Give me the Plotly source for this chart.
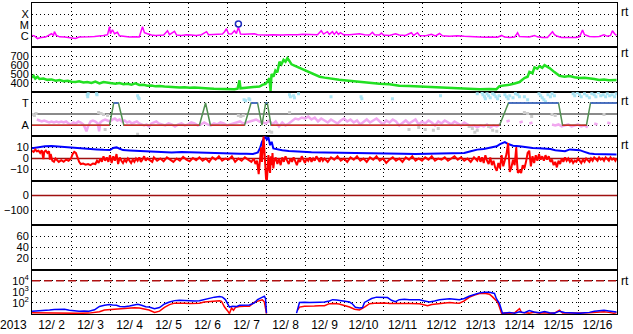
import pandas as pd
import plotly.graph_objects as go
from plotly.subplots import make_subplots

# ---------------- data (hours since 2013-12-02 00:00 UT) ----------------
START = "2013-12-02 00:00"
END = "2013-12-17 00:00"

xray_h = [0,1.5,3.4,5.8,8.3,10.8,12,13.2,13.8,15,17,20,23,25.5,26.8,29,32.3,35.4,38.5,41.5,44,46.5,47.7,48.3,49.5,50.8,52.6,53.8,57,60,63,66,68,69.2,71,73.5,76,78.5,81,83.4,84.6,87.7,89,92,95,98,101,104.3,107.4,108.6,111.7,114.8,117.2,118.5,119.7,120.9,122.8,124.6,125.8,127,128.3,130.8,133.8,136.9,138.8,141.8,145,148,151,154,157.2,160.3,163.4,166.5,169.5,172.6,175.7,178,179.4,181.8,183,184.9,186,187.4,188.6,189.8,191.7,195.4,198.5,201.5,204.6,207.7,209.5,210.8,213.8,215,216.3,220,223.7,226,229.8,233.5,234.8,237.2,238.5,242,245.8,248.3,250.8,252.6,257,261.8,266,270.5,274,278.5,282.8,286.5,289,290.8,293.8,297,298.8,300,303,306,309.2,311,314,317.2,320.3,321.5,323.4,325.8,328.9,332,335,337,338.8,340,343,346,349,352,354,356,357.2,358.5,359.7]
xray_flux = [1.2e-6,1.1e-6,6.3e-7,8e-7,8.6e-7,1.4e-6,1.7e-6,1.2e-6,2.6e-6,1.2e-6,9e-7,8.6e-7,8e-7,7e-7,6.5e-7,8.6e-7,9.5e-7,9e-7,9.5e-7,1.0e-6,1.2e-6,1.4e-6,7.4e-6,1.7e-6,3.9e-6,1.7e-6,2.3e-6,1.1e-6,9e-7,8.6e-7,9e-7,8.6e-7,7.4e-6,2.1e-6,1.7e-6,1.3e-6,1.2e-6,1.2e-6,1.3e-6,3.2e-6,1.4e-6,2.8e-6,1.3e-6,1.2e-6,1.4e-6,1.3e-6,1.2e-6,1.4e-6,2.6e-6,1.4e-6,1.5e-6,1.4e-6,1.6e-6,2.6e-6,4.9e-6,1.7e-6,1.6e-6,3.2e-6,1.8e-6,6.5e-6,1.6e-6,1.5e-6,1.5e-6,1.7e-6,1.4e-6,1.3e-6,1.3e-6,1.4e-6,1.3e-6,1.3e-6,1.4e-6,1.3e-6,1.4e-6,1.5e-6,1.4e-6,1.5e-6,1.4e-6,3.2e-6,1.6e-6,2.6e-6,1.5e-6,2.6e-6,1.5e-6,2.6e-6,1.5e-6,2.1e-6,1.4e-6,1.4e-6,1.5e-6,1.7e-6,1.4e-6,1.3e-6,2.3e-6,1.4e-6,1.3e-6,2.0e-6,1.3e-6,1.2e-6,1.7e-6,1.3e-6,1.2e-6,2.1e-6,1.2e-6,2.1e-6,1.2e-6,1.1e-6,1.5e-6,1.1e-6,1.8e-6,1.1e-6,1.0e-6,1.1e-6,1.0e-6,9e-7,8.6e-7,8.4e-7,8.6e-7,8.4e-7,1.2e-6,8.6e-7,8e-7,8.6e-7,2.1e-6,9.5e-7,9e-7,8.6e-7,1.2e-6,9e-7,7.7e-7,8e-7,2.6e-6,1.4e-6,1.0e-6,8e-7,7.7e-7,7.5e-7,8e-7,9.5e-7,3.6e-6,1.4e-6,9.5e-7,9e-7,9.5e-7,1.4e-6,1.0e-6,1.2e-6,3.2e-6,1.7e-6,1.2e-6]
flare_h = [127]
flare_flux = [1.3e-5]

speed_h = [0,1,2,3.4,4.6,7,9.5,12,14.5,17,19.4,22,24.3,26.8,29,31.7,34,36.6,39,41.5,44,46.5,49,51.4,53.8,56.3,58.8,61.2,63.7,66,68.6,71,73.5,76,78.5,81.5,84.6,87.7,90.8,93.8,97,100,103,106,109,112,115,118.5,121.5,124.6,126.5,127.7,128.3,130.8,133.8,136.9,140,141.8,143.7,145,146.1,146.8,147.4,148.6,149.8,151,152.3,153.5,154.8,156,157.2,158.5,159.7,162.2,164.6,167.7,170.8,173.8,177,180,183,189,195,201.5,207.7,213.8,220,226,232,238.5,244.6,250.8,257,263,269,275.4,281.5,285.8,287.7,290.8,293.8,297,300,303,305,306.1,308,309.2,311,312.3,314,315.4,317.2,318.5,321.5,324.6,327.7,330.8,333.8,337,340,343,346,349,352,355,359.7]
speed_val = [460,480,450,470,445,450,435,440,425,432,420,425,415,412,418,405,410,400,415,395,410,400,398,392,400,385,390,380,395,378,380,370,372,362,365,360,355,358,350,352,345,348,342,340,338,335,333,330,332,330,335,430,340,345,350,352,360,378,390,420,455,310,500,470,540,520,640,610,660,640,680,645,610,590,570,550,515,490,470,460,450,435,425,412,405,392,385,370,365,360,352,348,342,338,335,330,332,330,365,370,380,395,410,455,470,525,510,575,560,590,570,600,580,567,522,480,470,478,465,455,460,455,445,433,438,432,433]

# IMF phi angle (deg); sector estimate (T = 315, A = 135)
sector_h = [0,47.7,50.3,53.2,56.5,103,106.8,109.8,130.8,134.8,138.8,141.5,143.8,144.8,147.1,287.7,293.2,324,326.5,341.2,343.7,359.9]
sector_deg = [135,135,315,315,135,135,315,135,135,315,315,135,315,315,135,135,315,315,135,135,315,315]

pink_h = [3,4.5,6,7.5,9,10.5,12,13.5,15,16.5,18,19.5,21,22.5,24,25.5,27,28.5,30,31.5,32.5,33.5,34.5,36,37.5,39,40.5,41.3,42,43.5,45,46.5,48,49.5,51,52.5,54,55.5,57,58.5,60,61.5,63,64.5,66,67.5,69,70.5,72,73.5,75,76.5,78,80,82,84,86,88,90,92,94,96,98,100,102,104,106,108,110,112,114,116,118,120,122,124,126,128,130,132,134,136,138,140,142,144,146,148,150,152,154,156,158,160,162,164,166,168,170,172,174,176,178,180,182,184,186,188,190,192,194,196,198,200,202,204,206,208,210,212,214,216,218,220,222,224,226,228,230,232,234,236,238,240,242,244,246,248,250,252,254,256,258,260,262,264,266,268,270,272,274,276,278,280,282,284,286,288,289,292,294,295,300,302,303,306,308,309,320,322,324,326,328,330,332,334,336,338,340,342,343,346,348,349,354,356]
pink_deg = [181,173,165,173,165,157,165,157,165,157,165,157,165,149,141,157,149,165,157,141,117,85,125,165,173,165,149,85,157,173,181,173,165,181,189,173,181,165,173,157,165,149,157,165,149,141,133,141,125,149,157,165,149,141,133,149,141,125,141,149,133,141,157,149,133,141,157,141,133,149,141,157,149,133,141,149,157,165,149,157,165,173,181,165,157,149,173,141,165,125,157,133,149,173,189,181,197,189,205,181,197,165,189,173,157,181,165,149,173,189,165,181,157,173,141,165,181,157,173,189,165,141,173,157,181,165,133,157,173,149,165,181,141,165,149,173,157,133,165,149,173,157,141,165,149,133,157,141,125,133,117,133,125,141,117,133,125,141,None,165,173,None,157,165,None,149,157,None,141,133,141,125,133,141,125,133,141,125,133,117,None,149,141,None,157,149]

cyan_h = [34,34.3,34.6,39.7,40,65,65.5,66,130.5,131.5,133.5,134,158.5,159,161,161.5,164,184,202.5,203,221.8,251.4,274,277,277.5,278.5,279,280,281,282,283.5,284.5,285.5,286.5,287.5,291,292,293,294,296,297.5,299,300,303,305,312,313,314,315,316,317.5,319,320,321.5,333,334,335.5,337,338,340,341.5,343,344.5,346,347,348.5,350,351.5,353,354,355.5,357,358.5,359.5]
cyan_deg = [381,365,389,389,381,373,357,349,341,333,349,341,381,365,373,357,389,365,365,349,349,373,389,397,381,365,349,389,373,357,389,381,365,349,373,381,365,349,373,357,389,381,365,365,341,389,373,357,341,325,381,365,389,373,389,373,397,381,365,389,373,357,389,381,365,397,373,381,365,389,373,381,365,389]

grey_h = [0.5,1.5,2.5,41,42.5,44,45,46.5,65,127,128.5,130,146,147.5,158.5,232,238,242,247,250,269,271,272.5,274,281,283.5,286,303,305,307.5,320,322,352]
grey_deg = [221,213,229,237,229,221,101,213,61,213,205,213,85,77,237,101,117,101,93,109,125,109,77,93,125,93,85,237,229,205,221,213,221]

bt_h = [0,4,8,12,16,20,24,28,32,36,40,44,48,50,52,54,56,60,64,68,72,76,80,86,92,98,104,110,116,120,124,128,132,136,139,140.5,141.5,142.5,143.5,144.5,145.5,146.5,147.5,148.5,150,154,158,162,166,172,180,188,196,204,212,220,228,236,244,252,260,266,270,274,278,281,284,286,288,291,293,296,300,304,308,312,316,319,322,325,328,331,334,337,340,343,346,350,355,359.7]
bt_val = [9.3,10.5,11.1,11.3,10.8,10.2,9.8,9.3,8.6,8.4,8.2,7.8,7.6,9.5,10,8.8,7.6,7.2,7.0,6.8,6.0,5.8,5.6,5.4,5.8,5.5,5.0,4.6,4.2,4.4,4.0,4.2,4.3,4.0,5.5,10,15,18,20,17,19,12,15,9,8.5,7.5,6.7,6.2,5.8,5.6,5.5,5.2,4.8,4.6,4.4,4.5,4.2,4.0,4.2,4.4,4.5,5,6.5,8,8.5,9.5,10,11,12.9,14.7,13,11.5,11,10.2,9.5,9.3,9.0,8.5,7.5,6.7,6.5,8.2,8.0,7.5,6.0,4.5,4.0,3.8,3.6,3.6]

bz_h = [0,1,2,3,4,5,6,7,7.5,8.5,9.5,10.5,11,11.5,12.5,13.5,14.5,15.5,16.5,18,19.5,21,22.5,24,25,26,27,28,29,30,31.5,33,34.5,36,37.5,39,40,41,42,43,44,45,46,47,48,49,50,51,52,53,54,55,56,57,58,59,60,61,62,63,64,65,66,67,68,69,70,71,72,74,75,77,79,81,83,85,87,89,91,93,95,97,99,101,103,105,107,109,111,113,115,117,119,121,123,125,127,129,131,133,135,136.5,137.5,138.5,139,139.5,140,140.5,141,141.5,142,142.5,143,143.5,144,144.5,145,145.5,146,146.5,147,147.5,148,148.5,149,150,151,152,153,154,155,156,157,158,159,160,161,162,163,164,165,166,167,168,169,170,171,172,173,174,175,176,177,178,179,180,182,184,186,188,190,192,194,196,198,200,202,204,206,208,210,212,214,216,218,220,222,224,226,228,230,232,234,236,238,240,242,244,246,248,250,252,254,256,258,260,262,264,266,268,270,272,274,275,276,277,278,279,280,281,282,283,284,285,286,287,288,289,290,291,292,293,293.5,294,295,296,297,298,298.5,299,300,301,302,303,304,305,306,306.5,307,308,309,310,311,312,313,314,315,316,317,318,319,320,321,322,323,324,325,326,327,328,329,330,331,332,333,334,335,336,337,338,339,340,341,342,343,344,345,346,347,348,349,350,351,352,353,354,355,356,357,358,359,359.7]
bz_val = [7,6,8,6.5,7,5,7.5,-0.5,6,7,5,6.5,-1,4,-2,-3,0,-2,-3,-1.5,-3,-1,-2,0,4,6,5,1,-3,-5,-4.5,-5.5,-5,-6,-4.5,-5,-2,-4,0,-3,2,-2,1,-3,3,-4,2,-2,4,-5,1,-2,-4,-1,-3,0,-2,-4,-1,-3,0,-2,1,-3,-1,2,-2,0,-1,-3,1,-2,0,-2.5,1,-1,-3,0,-2,1.5,-1,-2.5,0.5,-1.5,1,-2,0,-3,1,-1,2,-2,0,-1,2,-3,0,-2,1,-1,-3,0,-5,-2,-9,-14,-6,4,10,-3,14,20,8,-8,-18,-21,-6,3,-9,-13,2,-6,5,-9,-3,1,-5,0,-6,1,-3,2,-2,-5,0,-3,1,-2,-6,-1,-3,2,-1,-4,0,-2,1,-3,0,-2,2,-1,-3,1,-2,0,-3,1,-1,2,-2,0,-3,1,-1,2,-2,0,-3,1,-1,2,-2,0,-4,-1,1,-2,0,-3,1,-1,2,-2,0,-2,1,-1,2,-2,0,-1,1,-2,0,2,-1,1,-2,0,-3,1,-2,2,-3,1,-4,3,-2,-5,1,-6,-2,-8,-11,-4,-9,3,-7,-2,4,14,3,-12,-8,-1,-6,10,-4,-13,-11,-13,-6,-9,-3,5,7,-1,-7,2,-4,3,-2,4,-1,2,-2,3,-1,2,-3,-1,-6,-3,-8,-2,-5,0,-3,1,-2,0,-3,-1,-4,-2,-3,0,-2,-4,-1,-3,0,-2,-3,0,-2,1,-1,-2,1,-1,0,-2,1,-1,-2,1,-1,0,-2,0]

# energetic particle fluxes (log panel)
p_blue_h = [0,4.6,7.7,10.8,13.8,17,20,23,26,29,32,35,38.5,40.3,41.5,44.6,47.7,49.5,52,54,57,60,63,65,67.4,70,72,75.4,78.5,81.5,84.6,87.7,90.8,93.8,97,100,103,106,109,112.3,115.4,117.2,119,120.3,121.5,123.4,126,127.7,130.8,133.8,136.9,138.8,141.2,143,143.7,144.3,150,162.8,164,164.6,167.7,170.8,177,180,183,185,187.4,189,192.3,195.4,197.2,199,201.5,203.4,204.6,206.5,209,212,215.7,218.8,221.2,223.7,226,229.2,232.3,235.4,238.5,241.5,244.6,247.7,250.8,253.8,257,260,263,266,269,272.3,275.4,278.5,281.5,284.6,285.8,287.7,289,289.5,293.8,297,300,303,306,309,312.3,315.4,318.5,321.5,324.6,327.7,330.8,333.8,337,340,343,346,349,352,355,358,359.7]
p_blue = [18,19,22,23,26,25,27,22,19,18,19,18,24,35,48,60,72,65,60,48,44,52,62,75,62,45,42,30,38,80,120,160,175,160,150,150,158,210,275,330,372,330,200,90,42,50,48,60,63,65,100,200,300,398,250,12,None,12,60,110,117,110,117,120,150,195,180,170,140,120,80,40,35,38,110,160,250,330,340,300,170,130,195,210,190,200,190,150,120,150,195,210,230,210,190,250,400,560,800,912,900,700,240,85,25,12,14,12,16,13,20,15,13,17,13,12,18,14,13,12,11.5,13,14,18,20,22,19,17,15]
p_red_h = [0,4.6,10.8,17,23,29,35,38.5,41.5,44.6,47.7,50.8,54,57,60,63,66,69.2,72,75.4,78.5,81.5,84.6,87.7,90.8,93.8,97,100,103,106,109,112.3,115.4,116.6,118.5,120.3,121.5,122.8,124,125.2,127.7,130.8,133.8,136.9,140,141.8,143,144.3,150,163.4,164.6,167.7,170.8,173.8,177,180,183,186,189,193.5,195.4,198.5,201.5,204.6,207.7,210.8,213.8,217,220,223,226,232.3,238.5,243.4,246,250.8,253.8,257,260,263,266,269,272.3,275.4,278.5,280.3,281.5,283.4,284.6,286.5,287.7,289,290.8,293.8,297,300,301.2,306,309,312.3,315.4,318.5,321.5,324.6,326.5,330.8,337,343,346,349,352,355,358,359.7]
p_red = [13,12.5,12,13,12,11.5,12,13,16,23,25,27,28,30,34,36,34,28,23,14,18,40,70,95,100,92,88,90,95,120,135,150,158,140,42,20,11,35,22,40,48,50,50,117,158,190,117,11,None,23,42,50,48,52,55,56,85,90,80,55,42,27,23,42,85,95,100,98,90,92,85,88,85,55,70,90,100,110,100,95,150,320,500,700,741,700,600,350,250,120,40,11,12,11.5,13,30,14,12,14,12,13,11.5,12,22,12,11.5,12,13,14,13,16,14,12,13]

# ---------------- helpers ----------------
T0 = pd.Timestamp(START)
def tt(hours):
    return [T0 + pd.Timedelta(hours=h) if h is not None else None for h in hours]
X_ENDS = [pd.Timestamp(START), pd.Timestamp(END)]

FONT = "Liberation Sans, Arial, Helvetica, sans-serif"
DOT = "1px,3px"

fig = make_subplots(rows=7, cols=1, shared_xaxes=True, vertical_spacing=0)

def ref_line(row, yv, color, width=1.5, dash="solid"):
    fig.add_trace(go.Scatter(x=X_ENDS, y=[yv, yv], mode="lines",
                             line=dict(color=color, width=width, dash=dash),
                             hoverinfo="skip", showlegend=False), row=row, col=1)

# Panel 1: X-ray flux
fig.add_trace(go.Scatter(x=tt(xray_h), y=xray_flux, mode="lines",
                         line=dict(color="#ff00ff", width=1.5), showlegend=False), row=1, col=1)
fig.add_trace(go.Scatter(x=tt(flare_h), y=flare_flux, mode="markers",
                         marker=dict(symbol="circle-open", size=6, color="#2030c0",
                                     line=dict(width=1.5, color="#2030c0")),
                         showlegend=False), row=1, col=1)

# Panel 2: solar wind speed
fig.add_trace(go.Scatter(x=tt(speed_h), y=speed_val, mode="lines",
                         line=dict(color="#22e022", width=2.5), showlegend=False), row=2, col=1)

# Panel 3: phi angle
ref_line(3, 225, "#8a8a8a", 2)
fig.add_trace(go.Scatter(x=tt(pink_h), y=pink_deg, mode="lines", connectgaps=False,
                         line=dict(color="#f2a8f0", width=2.5), showlegend=False), row=3, col=1)
fig.add_trace(go.Scatter(x=tt(grey_h), y=grey_deg, mode="markers",
                         marker=dict(symbol="square", size=3, color="#cccccc"), showlegend=False), row=3, col=1)
fig.add_trace(go.Scatter(x=tt(cyan_h), y=cyan_deg, mode="markers",
                         marker=dict(symbol="square", size=3, color="#a8e4f4"), showlegend=False), row=3, col=1)
fig.add_trace(go.Scatter(x=tt(sector_h), y=sector_deg, mode="lines",
                         line=dict(color="#4f8f4f", width=1.5), showlegend=False), row=3, col=1)
# colour the flat parts of the sector line (A = red, T = blue)
for level, col in ((135, "#d42a2a"), (315, "#3f5fd8")):
    xs, ys = [], []
    for i in range(len(sector_h) - 1):
        if sector_deg[i] == level and sector_deg[i + 1] == level:
            xs += [T0 + pd.Timedelta(hours=sector_h[i]), T0 + pd.Timedelta(hours=sector_h[i + 1]), None]
            ys += [level, level, None]
    fig.add_trace(go.Scatter(x=xs, y=ys, mode="lines", line=dict(color=col, width=1.5),
                             showlegend=False), row=3, col=1)

# Panel 4: Bt / Bz
ref_line(4, 0, "#a01010", 1.5)
fig.add_trace(go.Scatter(x=tt(bt_h), y=bt_val, mode="lines",
                         line=dict(color="#0000ff", width=2), showlegend=False), row=4, col=1)
fig.add_trace(go.Scatter(x=tt(bz_h), y=bz_val, mode="lines",
                         line=dict(color="#ff0000", width=2), showlegend=False), row=4, col=1)

# Panel 5 (no data, zero line)
ref_line(5, 0, "#a01010", 1.5)

# Panel 6 (no data)
fig.add_trace(go.Scatter(x=X_ENDS, y=[None, None], mode="lines", hoverinfo="skip",
                         showlegend=False), row=6, col=1)

# Panel 7: particle fluxes
ref_line(7, 1e4, "#b01010", 1.5, "8px,4px")
fig.add_trace(go.Scatter(x=tt(p_red_h), y=p_red, mode="lines", connectgaps=False,
                         line=dict(color="#ff0000", width=1.5), showlegend=False), row=7, col=1)
fig.add_trace(go.Scatter(x=tt(p_blue_h), y=p_blue, mode="lines", connectgaps=False,
                         line=dict(color="#0000ff", width=1.5), showlegend=False), row=7, col=1)

# ---------------- axes ----------------
axis_common = dict(showline=True, mirror=True, linecolor="black", linewidth=1,
                   gridcolor="black", griddash=DOT, gridwidth=1, zeroline=False,
                   ticks="", fixedrange=True,
                   tickfont=dict(family=FONT, size=11, color="black"))

fig.update_xaxes(**axis_common, range=X_ENDS, tick0=START, dtick=86400000,
                 showgrid=True, showticklabels=False)
fig.update_xaxes(showticklabels=True, tickformat="%m/%e", ticklabelmode="period",
                 tickfont=dict(family=FONT, size=12, color="black"), row=7, col=1)

fig.update_yaxes(**axis_common, showgrid=True)
fig.update_yaxes(type="log", range=[-7, -3], tickvals=[1e-4, 1e-5, 1e-6],
                 ticktext=["X", "M", "C"], row=1, col=1)
fig.update_yaxes(range=[300, 800], tickvals=[400, 500, 600, 700], row=2, col=1)
fig.update_yaxes(range=[45, 405], tickvals=[135, 315], ticktext=["A", "T"], row=3, col=1)
fig.update_yaxes(range=[-20, 20], tickvals=[-10, 0, 10], row=4, col=1)
fig.update_yaxes(range=[-200, 100], tickvals=[-100, 0], row=5, col=1)
fig.update_yaxes(range=[0, 80], tickvals=[20, 40, 60], row=6, col=1)
fig.update_yaxes(type="log", range=[1, 5], tickvals=[1e2, 1e3, 1e4],
                 ticktext=["10<sup>2</sup>", "10<sup>3</sup>", "10<sup>4</sup>"], row=7, col=1)

# ---------------- annotations ----------------
annots = [dict(text="2013", xref="paper", yref="paper", x=0, y=0, xanchor="right",
               yanchor="top", xshift=-3, yshift=-2, showarrow=False,
               font=dict(family=FONT, size=12, color="black"))]
for ypx in (11.5, 52.5, 101.5, 146, 283.5):
    annots.append(dict(text="rt", xref="paper", yref="paper", x=1, y=(317 - ypx) / 315,
                       xanchor="left", yanchor="middle", xshift=2, showarrow=False,
                       font=dict(family=FONT, size=12, color="black")))

fig.update_layout(width=633, height=334, margin=dict(l=32, r=16, t=2, b=17),
                  paper_bgcolor="white", plot_bgcolor="white", showlegend=False,
                  annotations=annots, font=dict(family=FONT, size=12, color="black"))

fig.write_html("out.html", config={"displayModeBar": False})
